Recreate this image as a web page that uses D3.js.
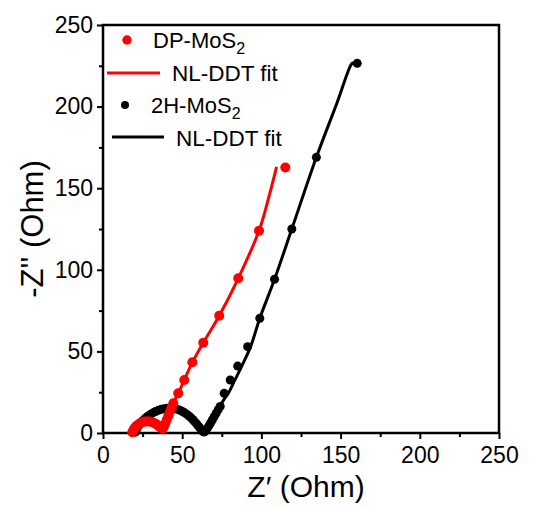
<!DOCTYPE html>
<html><head><meta charset="utf-8">
<script src="https://cdn.jsdelivr.net/npm/d3@7"></script>
<style>body{margin:0;background:#fff;} svg{display:block;} text{font-family:"Liberation Sans",Arial,sans-serif;}</style>
</head><body><svg id="c" width="535" height="506"></svg>
<script>
// Data (Z' , -Z'')
const dpX = [18.5,19.2,20,21,22.2,23.5,25,26.5,28,29.5,31,32.5,34,35.3,36.5,37.5,38.3,39.2,40.2,41.2,42.3,43.4,44.4,47.5,51.3,56.4,63.3,73.4,85.4,98.5,115.1];
const dpY = [0.5,1.8,3,4.2,5.2,6,6.6,7,7.1,7,6.6,6,5.2,4.2,3.2,2.6,3.5,5.5,8,10.5,13.2,15.8,18.2,24.3,32.5,43.3,55.3,71.9,94.8,124,162.7];
const dpFitX = [18.5,20,23,27,31,34.5,37,38.5,40,42,44.5,47.5,51.3,56.4,63.3,73.4,85.4,98.5,104,109.6];
const dpFitY = [0,3,5.5,7,6.5,4.5,2.5,3,7,12.5,18.5,24.3,32.5,43.3,55.3,71.9,94.8,124,142,163];
const h2X = [20.5,21,21.8,22.8,24,25.3,26.7,28.2,29.8,31.5,33.2,35,36.8,38.6,40.4,42.2,44,45.8,47.6,49.3,51,52.6,54.1,55.5,56.8,58,59.2,60.3,61.3,62.2,63,63.8,64.6,65.6,66.7,67.8,69,70.2,71.4,72.7,74,76.5,80.3,85,91.3,99,108.3,119.2,134.7,160.5];
const h2Y = [0.5,1.8,3.3,4.8,6.3,7.7,9,10.2,11.3,12.3,13.2,13.9,14.5,14.9,15.1,15.2,15.1,14.8,14.3,13.6,12.7,11.7,10.6,9.4,8.1,6.8,5.5,4.2,3,1.9,1,0.6,1.2,2.5,4.2,6,8,10,12,14.3,16.3,24.3,32.5,41,52.9,70.3,94.2,125,168.9,226.5];
const h2FitX = [20,22,25,29,33,38,42,46,50,54,57.5,60.5,62.5,64,66,69,72.5,76,79.1,83.3,87.6,93.2,99,108.3,119.2,134.7,148,156.5,158];
const h2FitY = [0,3.5,7.3,11,13.5,15.3,15.7,15,13.3,10.5,7,3.5,1,0.5,3,8,14.5,20,24.3,32.5,41,52.9,70.3,94.2,125,168.9,203,225.5,227];
const xTicks = [0,50,100,150,200,250];
const yTicks = [0,50,100,150,200,250];
const legendLabels = ["DP-MoS","NL-DDT fit","2H-MoS","NL-DDT fit"];

const svg = d3.select("#c");
const L=103,R=499,T=25,B=433;
const x = d3.scaleLinear().domain([0,250]).range([L,R]);
const y = d3.scaleLinear().domain([0,250]).range([B,T]);

// frame
svg.append("rect").attr("x",L).attr("y",T).attr("width",R-L).attr("height",B-T)
  .attr("fill","none").attr("stroke","#000").attr("stroke-width",2.5);

// axes
const xa = svg.append("g").attr("transform",`translate(0,${B})`)
  .call(d3.axisBottom(x).tickValues(xTicks).tickSize(6).tickPadding(8).tickFormat(d3.format("d")));
const xm = svg.append("g").attr("transform",`translate(0,${B})`)
  .call(d3.axisBottom(x).tickValues(d3.range(25,250,50)).tickSize(4).tickFormat(""));
const ya = svg.append("g").attr("transform",`translate(${L},0)`)
  .call(d3.axisLeft(y).tickValues(yTicks).tickSize(6).tickPadding(4).tickFormat(d3.format("d")));
const ym = svg.append("g").attr("transform",`translate(${L},0)`)
  .call(d3.axisLeft(y).tickValues(d3.range(25,250,50)).tickSize(4).tickFormat(""));
[xa,xm,ya,ym].forEach(g=>{
  g.select(".domain").remove();
  g.selectAll("line").attr("stroke","#000").attr("stroke-width",2);
  g.selectAll("text").attr("font-size",23).attr("fill","#000").attr("font-family","Liberation Sans, Arial, sans-serif");
});

// titles
svg.append("text").attr("x",306).attr("y",497).attr("text-anchor","middle")
  .attr("font-size",30).text("Z\u2032 (Ohm)");
svg.append("text").attr("transform",`translate(43,229) rotate(-90)`).attr("text-anchor","middle")
  .attr("font-size",31).text("-Z'' (Ohm)");

const line = d3.line().x(d=>x(d[0])).y(d=>y(d[1])).curve(d3.curveCatmullRom);
const plot = svg.append("g");
const h2 = h2X.map((v,i)=>[v,h2Y[i]]);
const h2f = h2FitX.map((v,i)=>[v,h2FitY[i]]);
const dp = dpX.map((v,i)=>[v,dpY[i]]);
const dpf = dpFitX.map((v,i)=>[v,dpFitY[i]]);
plot.selectAll(".h2").data(h2).join("circle").attr("cx",d=>x(d[0])).attr("cy",d=>y(d[1])).attr("r",4.5).attr("fill","#000");
plot.append("path").datum(h2f).attr("d",line).attr("fill","none").attr("stroke","#000").attr("stroke-width",3);
plot.append("path").datum(dpf).attr("d",line).attr("fill","none").attr("stroke","#ff0000").attr("stroke-width",3);
plot.selectAll(".dp").data(dp).join("circle").attr("cx",d=>x(d[0])).attr("cy",d=>y(d[1])).attr("r",5).attr("fill","#ff0000");

// legend
const lg = svg.append("g");
lg.append("circle").attr("cx",127).attr("cy",40).attr("r",4.7).attr("fill","#ff0000");
const t1 = lg.append("text").attr("x",153).attr("y",48).attr("font-size",22);
t1.append("tspan").text(legendLabels[0]);
t1.append("tspan").attr("font-size",16).attr("dy",6).text("2");
lg.append("line").attr("x1",107).attr("x2",160).attr("y1",73).attr("y2",73).attr("stroke","#ff0000").attr("stroke-width",3);
lg.append("text").attr("x",172).attr("y",81).attr("font-size",22.5).text(legendLabels[1]);
lg.append("circle").attr("cx",125).attr("cy",105).attr("r",4).attr("fill","#000");
const t2 = lg.append("text").attr("x",151).attr("y",113).attr("font-size",22);
t2.append("tspan").text(legendLabels[2]);
t2.append("tspan").attr("font-size",16).attr("dy",6).text("2");
lg.append("line").attr("x1",112).attr("x2",164).attr("y1",137).attr("y2",137).attr("stroke","#000").attr("stroke-width",3);
lg.append("text").attr("x",176).attr("y",146).attr("font-size",22.5).text(legendLabels[3]);
</script></body></html>
